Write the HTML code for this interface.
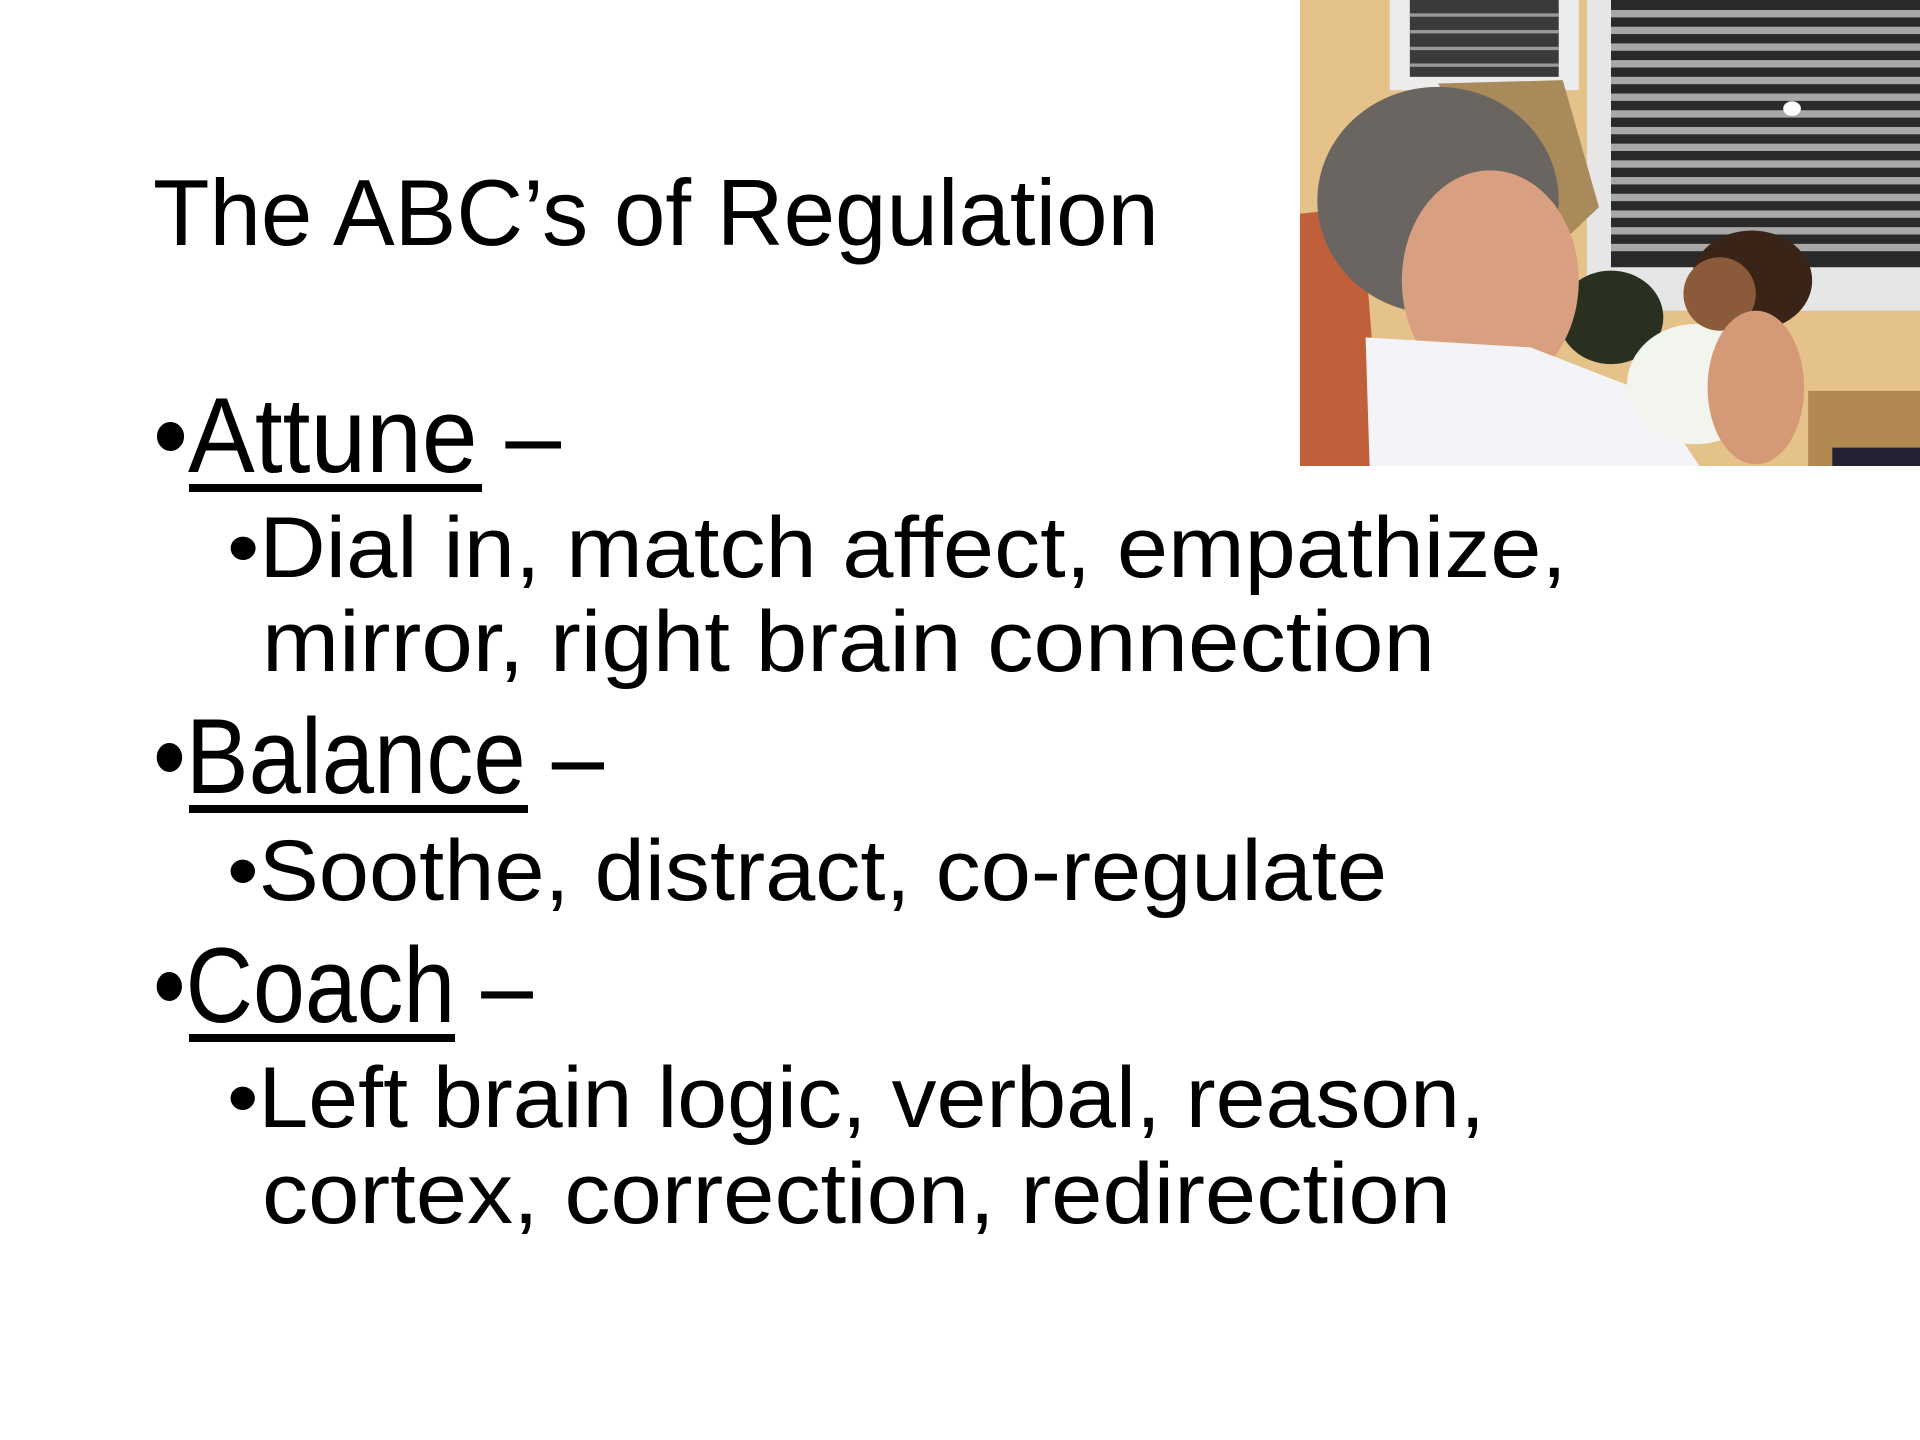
<!DOCTYPE html>
<html><head><meta charset="utf-8"><style>
html,body{margin:0;padding:0;background:#fff;}
svg{display:block;}
text{font-family:"Liberation Sans",sans-serif;fill:#000;}
</style></head><body>
<svg width="1920" height="1440" viewBox="0 0 1920 1440" xmlns="http://www.w3.org/2000/svg">
<rect width="1920" height="1440" fill="#fff"/>
<text x="153" y="245" font-size="94" textLength="1006" lengthAdjust="spacingAndGlyphs">The ABC’s of Regulation</text>

<text x="153" y="472" font-size="107" textLength="408" lengthAdjust="spacingAndGlyphs">•Attune –</text>
<rect x="189" y="484" width="293" height="8"/>
<text x="227" y="577" font-size="86" textLength="1340" lengthAdjust="spacingAndGlyphs">•Dial in,  match affect, empathize,</text>
<text x="262" y="671" font-size="86" textLength="1173" lengthAdjust="spacingAndGlyphs">mirror, right brain connection</text>

<text x="153" y="793" font-size="107" textLength="451" lengthAdjust="spacingAndGlyphs">•Balance –</text>
<rect x="189" y="805" width="339" height="8"/>
<text x="227" y="900" font-size="86" textLength="1160" lengthAdjust="spacingAndGlyphs">•Soothe, distract, co-regulate</text>

<text x="153" y="1022" font-size="107" textLength="380" lengthAdjust="spacingAndGlyphs">•Coach –</text>
<rect x="189" y="1034" width="266" height="8"/>
<text x="227" y="1127" font-size="86" textLength="1258" lengthAdjust="spacingAndGlyphs">•Left brain logic, verbal, reason,</text>
<text x="262" y="1223" font-size="86" textLength="1189" lengthAdjust="spacingAndGlyphs">cortex, correction, redirection</text>

<svg x="1300" y="0" width="620" height="466" viewBox="27 0 1541 1395" preserveAspectRatio="none">
  <rect x="27" y="0" width="1541" height="1395" fill="#e4c28a"/>
  <rect x="250" y="0" width="470" height="270" fill="#ececec"/>
  <rect x="300" y="0" width="370" height="230" fill="#3a3a3a"/>
  <g fill="#9a9a9a">
    <rect x="300" y="40" width="370" height="10"/><rect x="300" y="90" width="370" height="10"/>
    <rect x="300" y="140" width="370" height="10"/><rect x="300" y="190" width="370" height="10"/>
  </g>
  <rect x="740" y="0" width="828" height="930" fill="#e6e6e6"/>
  <rect x="800" y="0" width="768" height="800" fill="#2a2a2a"/>
  <g fill="#a8a8a8">
    <rect x="800" y="30" width="768" height="22"/><rect x="800" y="80" width="768" height="22"/>
    <rect x="800" y="130" width="768" height="22"/><rect x="800" y="180" width="768" height="22"/>
    <rect x="800" y="230" width="768" height="22"/><rect x="800" y="280" width="768" height="22"/>
    <rect x="800" y="330" width="768" height="22"/><rect x="800" y="380" width="768" height="22"/>
    <rect x="800" y="430" width="768" height="22"/><rect x="800" y="480" width="768" height="22"/>
    <rect x="800" y="530" width="768" height="22"/><rect x="800" y="580" width="768" height="22"/>
    <rect x="800" y="630" width="768" height="22"/><rect x="800" y="680" width="768" height="22"/>
    <rect x="800" y="730" width="768" height="22"/>
  </g>
  <circle cx="1250" cy="325" r="22" fill="#fff"/>
  <polygon points="370,250 680,240 770,620 700,700 600,700" fill="#a98a5a"/>
  <ellipse cx="800" cy="950" rx="130" ry="140" fill="#2a3020"/>
  <rect x="1290" y="1170" width="278" height="225" fill="#b08850"/>
  <path d="M27 640 L180 620 L230 1395 L27 1395 Z" fill="#c0603a"/>
  <ellipse cx="370" cy="600" rx="300" ry="340" fill="#6a6560"/>
  <ellipse cx="500" cy="840" rx="220" ry="330" fill="#d8a080"/>
  <path d="M190 1010 L600 1040 L900 1180 L1020 1395 L200 1395 Z" fill="#f4f4f8"/>
  <ellipse cx="1010" cy="1150" rx="170" ry="180" fill="#f2f4ee"/>
  <ellipse cx="1150" cy="840" rx="150" ry="150" fill="#3a2418"/>
  <ellipse cx="1070" cy="880" rx="90" ry="110" fill="#8a5a3a"/>
  <ellipse cx="1160" cy="1160" rx="120" ry="230" fill="#d49a78"/>
  <rect x="1350" y="1340" width="218" height="55" fill="#223"/>
</svg>
</svg>
</body></html>
